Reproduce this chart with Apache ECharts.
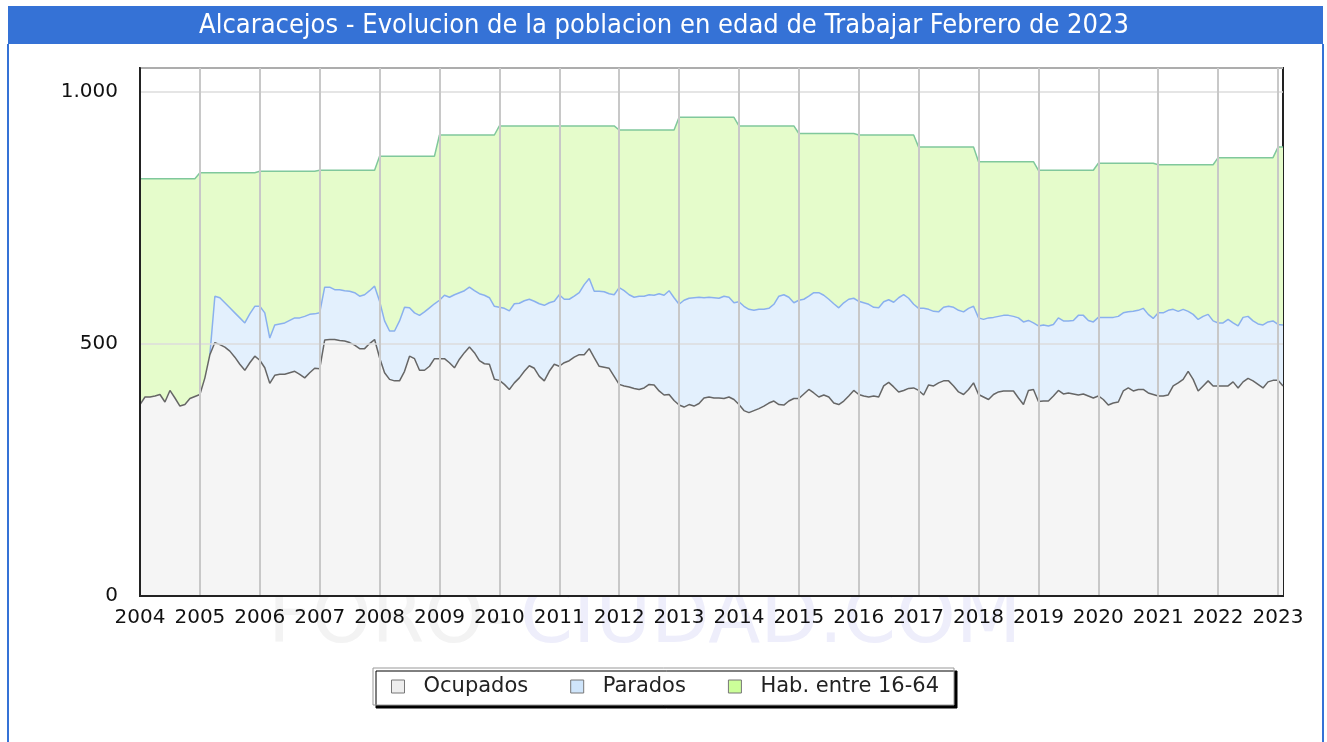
<!DOCTYPE html>
<html>
<head>
<meta charset="utf-8">
<title>Alcaracejos</title>
<script src="https://cdn.jsdelivr.net/npm/echarts@6/dist/echarts.min.js"></script>
<style>
  html, body { margin: 0; padding: 0; background: #fff; }
  #chart { width: 1327px; height: 742px; }
</style>
</head>
<body>
<div id="chart"></div>
<script>
  // años del eje x
  var years = [2004, 2005, 2006, 2007, 2008, 2009, 2010, 2011, 2012, 2013,
    2014, 2015, 2016, 2017, 2018, 2019, 2020, 2021, 2022, 2023];
  var lastYearMonths = 2; // hasta febrero de 2023

  // habitantes entre 16 y 64 (un valor por año)
  var habitantes = [828, 840, 843, 845, 873, 915, 933, 933, 925, 950,
    933, 918, 915, 891, 862, 845, 859, 856, 870, 891];

  // ocupados, mensual
  var ocupados = [
    380, 395, 395, 397, 400, 385, 408, 393, 377, 380, 392, 396,
    400, 433, 479, 503, 499, 494, 486, 474, 460, 448, 463, 476,
    468, 453, 422, 438, 440, 440, 443, 446, 440, 433, 443, 452,
    451, 508, 509, 509, 507, 506, 503, 498, 491, 491, 501, 509,
    473, 443, 430, 427, 427, 446, 476, 471, 448, 448, 456, 471,
    471, 471, 463, 453, 470, 483, 494, 483, 467, 461, 460, 430,
    428, 420, 410, 423, 433, 446, 457, 452, 436, 427, 446, 460,
    456, 463, 467, 474, 479, 479, 491, 473, 456, 454, 452, 436,
    420, 417, 415, 412, 410, 413, 420, 419, 407, 399, 400, 388,
    379, 375, 380, 377, 382, 393, 395, 393, 393, 392, 395, 390,
    380, 368, 364, 368, 372, 377, 383, 387, 380, 379, 387, 392,
    392, 401, 410, 403, 395, 399, 395, 383, 380, 387, 397, 408,
    400, 397, 395, 397, 395, 417, 424, 415, 405, 408, 412, 413,
    408, 399, 419, 417, 423, 427, 427, 417, 405, 400, 410, 423,
    400, 395, 390, 400, 405, 407, 407, 407, 393, 380, 408, 410,
    386, 387, 387, 397, 408, 401, 403, 401, 399, 401, 397, 393,
    397, 390, 379, 383, 385, 407, 413, 407, 410, 410, 403, 400,
    397, 397, 399, 417, 423, 430, 446, 430, 407, 417, 427, 417,
    417, 417, 417, 425, 413, 425, 432, 427, 420, 413, 425, 428,
    428, 417
  ];

  // parados, mensual (sin datos antes de marzo de 2005)
  var parados = [
    '-', '-', '-', '-', '-', '-', '-', '-', '-', '-', '-', '-',
    '-', '-', 0, 92, 93, 88, 86, 88, 92, 94, 97, 99,
    107, 109, 90, 100, 100, 102, 104, 106, 112, 122, 116, 108,
    111, 105, 104, 99, 101, 100, 102, 104, 104, 107, 105, 106,
    112, 103, 96, 99, 119, 127, 96, 91, 109, 116, 116, 109,
    116, 126, 130, 145, 132, 123, 119, 123, 133, 136, 132, 145,
    145, 151, 156, 157, 148, 140, 132, 133, 144, 150, 136, 125,
    142, 126, 122, 121, 123, 139, 139, 132, 149, 150, 148, 162,
    192, 189, 183, 181, 185, 182, 178, 178, 193, 198, 206, 204,
    200, 212, 211, 215, 211, 199, 198, 199, 198, 203, 198, 192,
    204, 207, 205, 199, 197, 192, 188, 192, 215, 219, 206, 190,
    195, 188, 185, 199, 207, 198, 194, 197, 192, 195, 192, 183,
    185, 185, 184, 176, 177, 167, 164, 168, 187, 190, 179, 166,
    163, 172, 150, 148, 141, 146, 148, 156, 162, 164, 161, 152,
    152, 154, 162, 153, 150, 150, 150, 148, 159, 164, 139, 132,
    150, 151, 149, 142, 144, 145, 143, 146, 158, 156, 150, 151,
    156, 163, 174, 170, 170, 155, 151, 158, 157, 161, 156, 151,
    165, 165, 168, 152, 142, 139, 119, 129, 142, 138, 132, 129,
    125, 125, 132, 117, 123, 128, 123, 119, 120, 125, 119, 118,
    111, 121
  ];

  var yTicks = [0, 500, 1000];

  // meses y población mensual
  var meses = [];
  var habMensual = [];
  years.forEach(function (y, i) {
    var n = (i === years.length - 1) ? lastYearMonths : 12;
    for (var m = 1; m <= n; m++) {
      meses.push(y + '-' + (m < 10 ? '0' + m : m));
      habMensual.push(habitantes[i]);
    }
  });

  var fuente = 'DejaVu Sans';
  var azul = '#3572d6';
  var esEnero = function (index) { return index % 12 === 0; };

  var myChart = echarts.init(document.getElementById('chart'));
  var option = {
    backgroundColor: '#fff',
    animation: false,
    textStyle: { fontFamily: fuente },
    graphic: [
      { type: 'rect', z: 10, shape: { x: 8, y: 6, width: 1315, height: 38 }, style: { fill: azul } },
      {
        type: 'text', z: 11, x: 664, y: 26,
        style: {
          text: 'Alcaracejos - Evolucion de la poblacion en edad de Trabajar Febrero de 2023',
          fill: '#fff', font: '27px "DejaVu Sans Condensed", "DejaVu Sans"',
          textAlign: 'center', textVerticalAlign: 'middle'
        }
      },
      { type: 'line', z: 10, shape: { x1: 8, y1: 44, x2: 8, y2: 742 }, style: { stroke: azul, lineWidth: 2 } },
      { type: 'line', z: 10, shape: { x1: 1323, y1: 44, x2: 1323, y2: 742 }, style: { stroke: azul, lineWidth: 2 } },
      // marca de agua
      {
        type: 'text', z: -10, x: 268, y: 622,
        style: { text: 'FORO-', fill: '#f3f3f3', font: '76px ' + fuente, textVerticalAlign: 'middle' }
      },
      {
        type: 'text', z: -10, x: 520, y: 622,
        style: { text: 'CIUDAD.COM', fill: '#eeeefb', font: '76px ' + fuente, textVerticalAlign: 'middle' }
      }
    ],
    legend: {
      left: 373,
      top: 668,
      padding: [8, 15, 8, 18],
      itemGap: 42,
      itemWidth: 13,
      itemHeight: 13,
      backgroundColor: '#fff',
      borderColor: '#999',
      borderWidth: 1,
      borderRadius: 0,
      shadowColor: '#000',
      shadowBlur: 0,
      shadowOffsetX: 3,
      shadowOffsetY: 3,
      textStyle: { fontSize: 21, color: '#222', padding: [0, 0, 0, 14] },
      data: [
        { name: 'Ocupados', icon: 'rect', itemStyle: { color: '#eeeeee', borderColor: '#777', borderWidth: 1 } },
        { name: 'Parados', icon: 'rect', itemStyle: { color: '#cfe5fb', borderColor: '#777', borderWidth: 1 } },
        { name: 'Hab. entre 16-64', icon: 'rect', itemStyle: { color: '#ccff99', borderColor: '#777', borderWidth: 1 } }
      ]
    },
    grid: {
      left: 140,
      right: 44,
      top: 68,
      bottom: 146,
      show: true,
      backgroundColor: '#fff',
      borderColor: '#222',
      borderWidth: 2
    },
    xAxis: {
      type: 'category',
      z: 5,
      boundaryGap: false,
      data: meses,
      axisLine: { lineStyle: { color: '#222', width: 2 } },
      axisTick: { show: false },
      axisLabel: {
        interval: esEnero,
        margin: 12,
        color: '#111',
        fontSize: 20,
        formatter: function (v) { return v.slice(0, 4); }
      },
      splitLine: { show: true, interval: esEnero, lineStyle: { color: '#c8c8c8', width: 2 } }
    },
    yAxis: {
      type: 'value',
      z: 5,
      min: 0,
      max: 1048,
      interval: 500,
      axisLine: { show: true, lineStyle: { color: '#222', width: 2 } },
      axisTick: { show: false },
      axisLabel: {
        margin: 22,
        color: '#111',
        fontSize: 20,
        showMaxLabel: false,
        formatter: function (v) {
          if (yTicks.indexOf(v) < 0) return '';
          return v >= 1000 ? (v / 1000) + '.' + String(v % 1000).padStart(3, '0') : String(v);
        }
      },
      splitLine: { lineStyle: { color: '#dddddd', width: 1.5 } }
    },
    series: [
      {
        name: 'Hab. entre 16-64',
        type: 'line',
        data: habMensual,
        symbol: 'none',
        z: 1,
        lineStyle: { color: '#80c89c', width: 1.5 },
        itemStyle: { color: '#ccff99' },
        areaStyle: { color: '#e5fccb', opacity: 1 }
      },
      {
        name: 'Ocupados',
        type: 'line',
        stack: 'total',
        data: ocupados,
        symbol: 'none',
        z: 3,
        lineStyle: { color: '#666666', width: 1.5 },
        itemStyle: { color: '#eeeeee' },
        areaStyle: { color: '#f5f5f5', opacity: 1 }
      },
      {
        name: 'Parados',
        type: 'line',
        stack: 'total',
        data: parados,
        symbol: 'none',
        z: 2,
        lineStyle: { color: '#8ab0ee', width: 1.5 },
        itemStyle: { color: '#cfe5fb' },
        areaStyle: { color: '#e3f0fd', opacity: 1 }
      }
    ]
  };
  myChart.setOption(option);
</script>
</body>
</html>
